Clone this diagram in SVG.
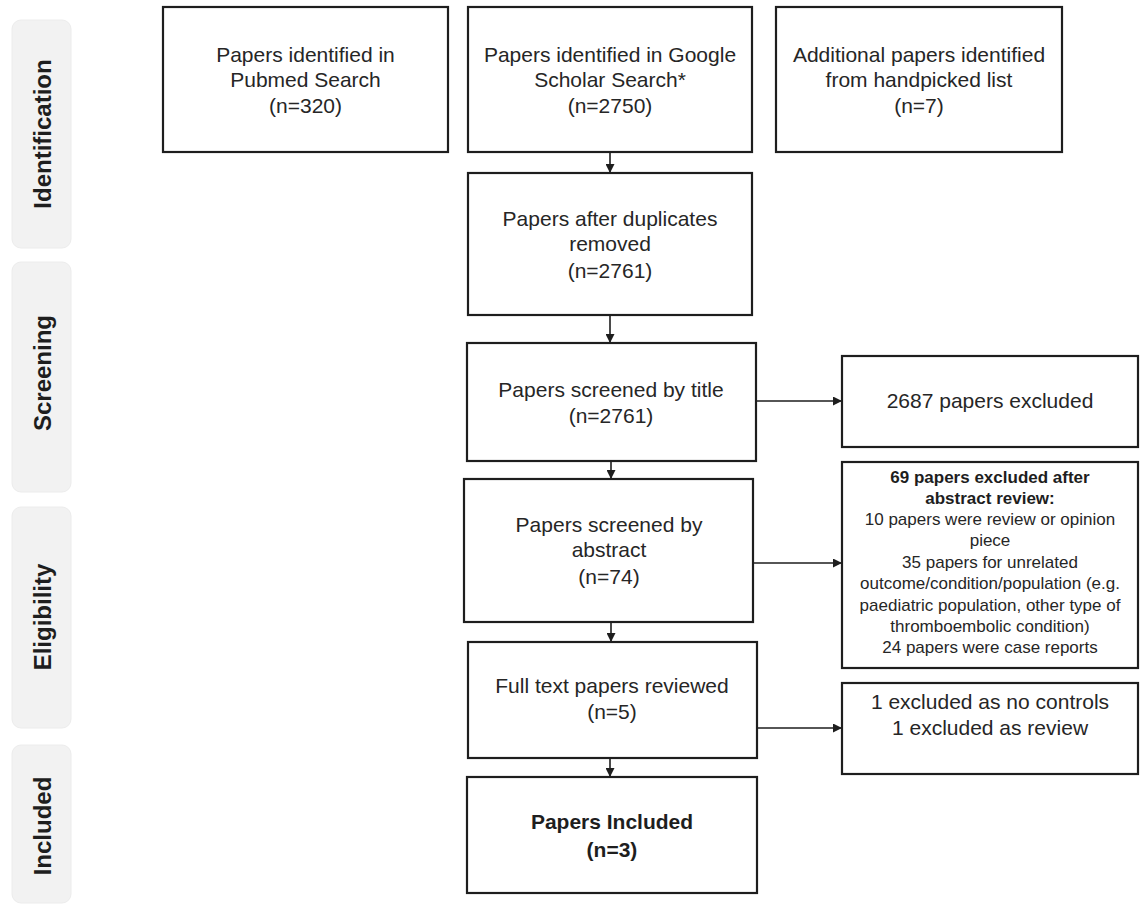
<svg xmlns="http://www.w3.org/2000/svg" width="1140" height="905" viewBox="0 0 1140 905">
<style>
.side{fill:#f2f2f2;stroke:#ececec;stroke-width:1}
.slabel{font-family:"Liberation Sans",Arial,sans-serif;font-weight:bold;font-size:24px;fill:#1e1e1e;text-anchor:middle}
.box{fill:#ffffff;stroke:#1e1e1e;stroke-width:2.2}
.t{font-family:"Liberation Sans",Arial,sans-serif;font-size:21px;fill:#262626;text-anchor:middle}
.s{font-family:"Liberation Sans",Arial,sans-serif;font-size:17px;fill:#262626;text-anchor:middle}
.b{font-weight:bold;fill:#1e1e1e}
.conn{stroke:#1e1e1e;stroke-width:1.6;fill:none;marker-end:url(#ah)}
</style>
<defs>
<marker id="ah" viewBox="0 0 10 10" refX="10" refY="5" markerWidth="9" markerHeight="9" markerUnits="userSpaceOnUse" orient="auto">
<path d="M0,0 L10,5 L0,10 z" fill="#1e1e1e"/>
</marker>
</defs>
<rect width="1140" height="905" fill="#ffffff"/>
<g id="phase-identification"><rect class="side" x="12" y="20" width="59" height="228" rx="9"/><text class="slabel" transform="translate(51,134) rotate(-90)">Identification</text></g>
<g id="phase-screening"><rect class="side" x="12" y="262" width="59" height="230" rx="9"/><text class="slabel" transform="translate(51,373) rotate(-90)">Screening</text></g>
<g id="phase-eligibility"><rect class="side" x="12" y="507" width="59" height="221" rx="9"/><text class="slabel" transform="translate(51,617) rotate(-90)">Eligibility</text></g>
<g id="phase-included"><rect class="side" x="12" y="745" width="59" height="158" rx="9"/><text class="slabel" transform="translate(51,826) rotate(-90)">Included</text></g>
<g id="connectors">
<path class="conn" d="M610,152 V173"/>
<path class="conn" d="M610,315 V343"/>
<path class="conn" d="M611,461 V479"/>
<path class="conn" d="M611,622 V642"/>
<path class="conn" d="M610,758 V777"/>
<path class="conn" d="M756,401 H842"/>
<path class="conn" d="M753,563 H842"/>
<path class="conn" d="M757,728 H842"/>
</g>
<g id="pubmed"><rect class="box" x="163" y="7" width="285" height="145"/>
<text class="t" x="305.5" y="62">Papers identified in</text><text class="t" x="305.5" y="87">Pubmed Search</text><text class="t" x="305.5" y="113">(n=320)</text></g>
<g id="google"><rect class="box" x="468" y="7" width="284" height="145"/>
<text class="t" x="610" y="62">Papers identified in Google</text><text class="t" x="610" y="87">Scholar Search*</text><text class="t" x="610" y="113">(n=2750)</text></g>
<g id="handpicked"><rect class="box" x="776" y="7" width="286" height="145"/>
<text class="t" x="919" y="62">Additional papers identified</text><text class="t" x="919" y="87">from handpicked list</text><text class="t" x="919" y="113">(n=7)</text></g>
<g id="duplicates"><rect class="box" x="468" y="173" width="284" height="142"/>
<text class="t" x="610" y="226">Papers after duplicates</text><text class="t" x="610" y="251">removed</text><text class="t" x="610" y="278">(n=2761)</text></g>
<g id="title"><rect class="box" x="467" y="343" width="289" height="118"/>
<text class="t" x="611" y="397">Papers screened by title</text><text class="t" x="611" y="423">(n=2761)</text></g>
<g id="excluded-title"><rect class="box" x="842" y="356" width="296" height="91"/>
<text class="t" x="990" y="408">2687 papers excluded</text></g>
<g id="abstract"><rect class="box" x="464" y="479" width="289" height="143"/>
<text class="t" x="609" y="532">Papers screened by</text><text class="t" x="609" y="557">abstract</text><text class="t" x="609" y="584">(n=74)</text></g>
<g id="excluded-abstract"><rect class="box" x="842" y="462" width="296" height="206"/>
<text class="s b" x="990" y="483">69 papers excluded after</text>
<text class="s b" x="990" y="504">abstract review:</text>
<text class="s" x="990" y="525">10 papers were review or opinion</text>
<text class="s" x="990" y="546">piece</text>
<text class="s" x="990" y="568">35 papers for unrelated</text>
<text class="s" x="990" y="589">outcome/condition/population (e.g.</text>
<text class="s" x="990" y="611">paediatric population, other type of</text>
<text class="s" x="990" y="632">thromboembolic  condition)</text>
<text class="s" x="990" y="653">24 papers were case reports</text></g>
<g id="fulltext"><rect class="box" x="468" y="642" width="289" height="116"/>
<text class="t" x="612" y="693">Full text  papers reviewed</text><text class="t" x="612" y="719">(n=5)</text></g>
<g id="excluded-fulltext"><rect class="box" x="842" y="683" width="296" height="91"/>
<text class="t" x="990" y="709">1 excluded as no controls</text><text class="t" x="990" y="735">1 excluded as review</text></g>
<g id="included"><rect class="box" x="467" y="777" width="290" height="116"/>
<text class="t b" x="612" y="829">Papers Included</text><text class="t b" x="612" y="857">(n=3)</text></g>
</svg>
